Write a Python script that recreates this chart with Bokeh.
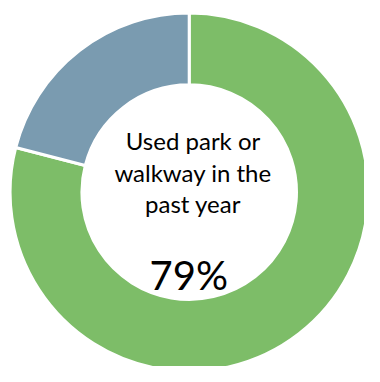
import math
from bokeh.plotting import figure
from bokeh.models import ColumnDataSource, Range1d
from bokeh.core.properties import value
from bokeh.embed import file_html
from bokeh.resources import INLINE

# Data
categories = ["Used park or walkway", "Did not use"]
shares = [79, 21]
colors = ["#7DBD68", "#7A9BB0"]
center_lines = ["Used park or", "walkway in the", "past year"]
center_value = "79%"

W, H = 364, 366
p = figure(width=W, height=H, output_backend="svg", toolbar_location=None,
           x_range=Range1d(0, 380), y_range=Range1d(0, 382), min_border=0)
p.axis.visible = False
p.grid.visible = False
p.outline_line_color = None
p.background_fill_color = "white"

cx, cy = 197, 182
r_out, r_in = 187, 112

# green slice runs clockwise from 12 o'clock, remainder anticlockwise
total = sum(shares)
top = math.pi / 2
g = shares[0] / total * 2 * math.pi
starts = [top - g, top]
ends = [top, top + shares[1] / total * 2 * math.pi]

src = ColumnDataSource(dict(cat=categories, start=starts, end=ends, color=colors))
p.annular_wedge(x=cx, y=cy, inner_radius=r_in, outer_radius=r_out,
                start_angle="start", end_angle="end", fill_color="color",
                line_color="white", line_width=3, source=src)

p.text(x=[201, 201, 201], y=[236, 202, 170], text=center_lines,
       text_font=value("Lato"), text_font_size="24px", text_color="black",
       text_align="center", text_baseline="alphabetic")
p.text(x=[196.5], y=[96], text=[center_value],
       text_font=value("Lato"), text_font_size="40px", text_color="black",
       text_align="center", text_baseline="alphabetic")

open("out.html", "w").write(file_html(p, INLINE))
